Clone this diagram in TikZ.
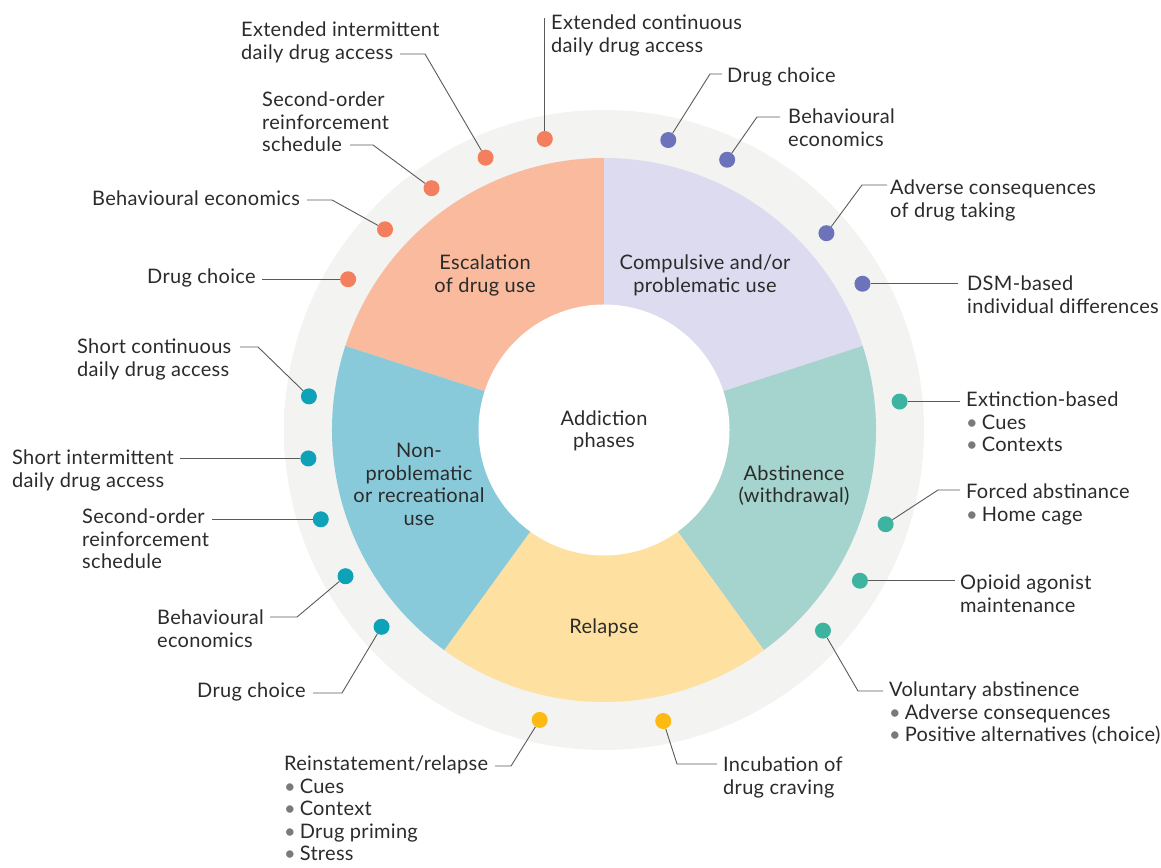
\documentclass[tikz,border=0pt]{standalone}
\usepackage{fontspec}
\setmainfont[LetterSpace=1.5]{Lato}
\usetikzlibrary{calc}
\definecolor{txt}{HTML}{2B2B2B}
\definecolor{leadgrey}{HTML}{5A5A5A}
\definecolor{bulgrey}{HTML}{7A7A7A}
\definecolor{ringin}{HTML}{F3F3F1}
\definecolor{ringout}{HTML}{EBEBE9}
\definecolor{ballout}{HTML}{E4E4E2}
\definecolor{secEsc}{HTML}{F9BA9D}
\definecolor{secCom}{HTML}{DCDBF0}
\definecolor{secAbs}{HTML}{A4D4CD}
\definecolor{secRel}{HTML}{FEE0A1}
\definecolor{secNon}{HTML}{89CADA}
\definecolor{dotO}{HTML}{F47F5E}
\definecolor{dotP}{HTML}{6C73BA}
\definecolor{dotT}{HTML}{3CB4A0}
\definecolor{dotY}{HTML}{FDBA12}
\definecolor{dotB}{HTML}{0EA2B8}
\pgfdeclareradialshading{ringshade}{\pgfpoint{0bp}{0bp}}{color(0bp)=(ringin); color(44bp)=(ringin); color(46.5bp)=(ringin); color(50bp)=(ringout)}
\pgfdeclareradialshading{ballshade}{\pgfpoint{0bp}{0bp}}{color(0bp)=(white); color(30bp)=(white); color(45bp)=(ringin); color(50bp)=(ballout)}
\newcommand\lb[1]{\hbox{#1}}
\newcommand\bl[1]{\hbox{{\color{bulgrey}•}\hspace{0.2em}#1}}
\tikzset{
  lbl/.style={anchor=base west, inner sep=0pt, text=txt, font=\fontsize{20}{22.5}\selectfont},
  sec/.style={align=center, inner sep=0pt, text=txt, font=\fontsize{20}{22.5}\selectfont},
  dot/.style={circle, fill=#1, minimum size=16pt, inner sep=0pt},
  leader/.style={draw=leadgrey, line width=0.9pt},
}
\begin{document}
\begin{tikzpicture}[x=1pt,y=1pt]
\useasboundingbox (0,0) rectangle (1161,867);
\coordinate (C) at (604,437);
% outer ring
\shade[shading=ringshade] (C) circle (320);
% sectors
\fill[secEsc] (C) -- ++(90:272) arc[start angle=90, end angle=162, radius=272] -- cycle;
\fill[secCom] (C) -- ++(18:272) arc[start angle=18, end angle=90, radius=272] -- cycle;
\fill[secAbs] (C) -- ++(-54:272) arc[start angle=-54, end angle=18, radius=272] -- cycle;
\fill[secRel] (C) -- ++(-126:272) arc[start angle=-126, end angle=-54, radius=272] -- cycle;
\fill[secNon] (C) -- ++(162:272) arc[start angle=162, end angle=234, radius=272] -- cycle;
% centre ball
\shade[shading=ballshade] (C) circle (125.5);
% sector labels
\node[sec] (nEsc) at (485,591.5) {Escalation\\of drug use};
\node[sec] (nCom) at (705,591.5) {Compulsive and/or\\problematic use};
\node[sec] (nAbs) at (794,381.5) {Abstinence\\(withdrawal)};
\node[sec] (nRel) at (604,239) {Relapse};
\node[sec] (nNon) at (419,382.5) {Non-\\problematic\\or recreational\\use};
\node[sec] (nAdd) at (604,436) {Addiction\\phases};
% dots
\node[dot=dotO] (o1) at ($(C)+(101.5:297)$) {};
\node[dot=dotO] (o2) at ($(C)+(113.5:297)$) {};
\node[dot=dotO] (o3) at ($(C)+(125.5:297)$) {};
\node[dot=dotO] (o4) at ($(C)+(137.5:297)$) {};
\node[dot=dotO] (o5) at ($(C)+(149.5:297)$) {};
\node[dot=dotP] (p1) at ($(C)+(77.5:297)$) {};
\node[dot=dotP] (p2) at ($(C)+(65.5:297)$) {};
\node[dot=dotP] (p3) at ($(C)+(41.5:297)$) {};
\node[dot=dotP] (p4) at ($(C)+(29.5:297)$) {};
\node[dot=dotT] (t1) at ($(C)+(5.5:297)$) {};
\node[dot=dotT] (t2) at ($(C)+(-18.5:297)$) {};
\node[dot=dotT] (t3) at ($(C)+(-30.5:297)$) {};
\node[dot=dotT] (t4) at ($(C)+(-42.5:297)$) {};
\node[dot=dotY] (y1) at ($(C)+(-102.5:297)$) {};
\node[dot=dotY] (y2) at ($(C)+(-78.5:297)$) {};
\node[dot=dotB] (b1) at ($(C)+(173.5:297)$) {};
\node[dot=dotB] (b2) at ($(C)+(185.5:297)$) {};
\node[dot=dotB] (b3) at ($(C)+(197.5:297)$) {};
\node[dot=dotB] (b4) at ($(C)+(209.5:297)$) {};
\node[dot=dotB] (b5) at ($(C)+(221.5:297)$) {};
% labels
\node[lbl] (L1) at (241,830) {\vtop{\lb{Extended intermittent}\lb{daily drug access}}};
\node[lbl] (L2) at (551,837) {\vtop{\lb{Extended continuous}\lb{daily drug access}}};
\node[lbl] (L3) at (727,784) {\vtop{\lb{Drug choice}}};
\node[lbl] (L4) at (788,743) {\vtop{\lb{Behavioural}\lb{economics}}};
\node[lbl] (L5) at (890,672) {\vtop{\lb{Adverse consequences}\lb{of drug taking}}};
\node[lbl] (L6) at (967,576) {\vtop{\lb{DSM-based}\lb{individual differences}}};
\node[lbl] (L7) at (966,460) {\vtop{\lb{Extinction-based}\bl{Cues}\bl{Contexts}}};
\node[lbl] (L8) at (966,368) {\vtop{\lb{Forced abstinance}\bl{Home cage}}};
\node[lbl] (L9) at (960,277) {\vtop{\lb{Opioid agonist}\lb{maintenance}}};
\node[lbl] (L10) at (889,170) {\vtop{\lb{Voluntary abstinence}\bl{Adverse consequences}\bl{Positive alternatives (choice)}}};
\node[lbl] (L11) at (723,95) {\vtop{\lb{Incubation of}\lb{drug craving}}};
\node[lbl] (L12) at (284,96) {\vtop{\lb{Reinstatement/relapse}\bl{Cues}\bl{Context}\bl{Drug priming}\bl{Stress}}};
\node[lbl] (L13) at (197,169) {\vtop{\lb{Drug choice}}};
\node[lbl] (L14) at (157,242) {\vtop{\lb{Behavioural}\lb{economics}}};
\node[lbl] (L15) at (82,343) {\vtop{\lb{Second-order}\lb{reinforcement}\lb{schedule}}};
\node[lbl] (L16) at (12,402) {\vtop{\lb{Short intermittent}\lb{daily drug access}}};
\node[lbl] (L17) at (77,513) {\vtop{\lb{Short continuous}\lb{daily drug access}}};
\node[lbl] (L18) at (147,583) {\vtop{\lb{Drug choice}}};
\node[lbl] (L19) at (92,661) {\vtop{\lb{Behavioural economics}}};
\node[lbl] (L20) at (262,760) {\vtop{\lb{Second-order}\lb{reinforcement}\lb{schedule}}};
% leader coordinates
\coordinate (e1) at (425,813); \coordinate (f1) at (400,813);
\coordinate (f2) at (545,849);
\coordinate (e3) at (710,793); \coordinate (f3) at (722,793);
\coordinate (e4) at (757,750); \coordinate (f4) at (780,750);
\coordinate (e5) at (862,682); \coordinate (f5) at (887,682);
\coordinate (f6) at (958,584);
\coordinate (f7) at (960,465);
\coordinate (e8) at (938,377); \coordinate (f8) at (960,377);
\coordinate (f9) at (955,286);
\coordinate (e10) at (858,176); \coordinate (f10) at (883,176);
\coordinate (e11) at (677,103); \coordinate (f11) at (717,103);
\coordinate (e12) at (511,101); \coordinate (f12) at (495,101);
\coordinate (e13) at (342,174); \coordinate (f13) at (313,174);
\coordinate (e14) at (297,250); \coordinate (f14) at (270,250);
\coordinate (f15) at (212,348);
\coordinate (f16) at (180,409);
\coordinate (e17) at (258,520); \coordinate (f17) at (240,520);
\coordinate (f18) at (262,589);
\coordinate (e19) at (332,667); \coordinate (f19) at (307,667);
\coordinate (e20) at (373,722); \coordinate (f20) at (350,722);
% leaders
\draw[leader] (o2) -- (e1) -- (f1);
\draw[leader] (o1) -- (o1 |- f2);
\draw[leader] (p1) -- (e3) -- (f3);
\draw[leader] (p2) -- (e4) -- (f4);
\draw[leader] (p3) -- (e5) -- (f5);
\draw[leader] (p4) -- (p4 -| f6);
\draw[leader] (t1) -- (t1 -| f7);
\draw[leader] (t2) -- (e8) -- (f8);
\draw[leader] (t3) -- (t3 -| f9);
\draw[leader] (t4) -- (e10) -- (f10);
\draw[leader] (y2) -- (e11) -- (f11);
\draw[leader] (y1) -- (e12) -- (f12);
\draw[leader] (b5) -- (e13) -- (f13);
\draw[leader] (b4) -- (e14) -- (f14);
\draw[leader] (b3) -- (b3 -| f15);
\draw[leader] (b2) -- (b2 -| f16);
\draw[leader] (b1) -- (e17) -- (f17);
\draw[leader] (o5) -- (o5 -| f18);
\draw[leader] (o4) -- (e19) -- (f19);
\draw[leader] (o3) -- (e20) -- (f20);
\end{tikzpicture}
\end{document}
